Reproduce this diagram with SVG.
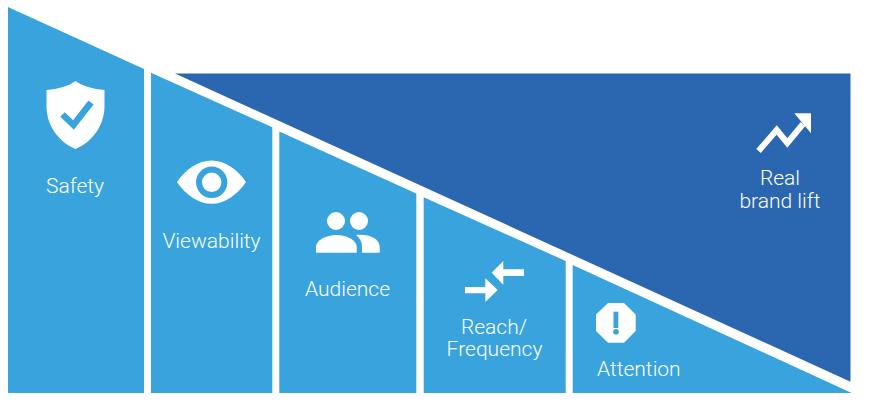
<svg xmlns="http://www.w3.org/2000/svg" width="870" height="400" viewBox="0 0 870 400">
<style>
.l{fill:#38a3dd}
.d{fill:#2b66b0}
.w{fill:#fff}
text{font-family:Roboto,"Liberation Sans",sans-serif;font-weight:300;font-size:21px;fill:#fff;text-anchor:middle}
</style>
<rect width="870" height="400" fill="#fff"/>
<g id="safety">
<polygon class="l" points="8,7 144,69 144,393 8,393"/>
<path class="w" d="M75.5,81 C82,86 93,89 104.500,90 L104.500,106 C104.500,126 92,142 75.500,149 C59,142 46.500,126 46.500,106 L46.500,90 C58,89 69,86 75.500,81 Z"/>
<polyline points="62.500,114.500 73.500,125 91,102.500" fill="none" stroke="#38a3dd" stroke-width="6.500"/>
<text x="75" y="193">Safety</text>
</g>
<g id="viewability">
<polygon class="l" points="151,72.700 272.300,127.300 272.300,393 151,393"/>
<path class="w" d="M177,182 C186,169 198,160.500 211.500,160.500 C225,160.500 237,169 246,182 C237,195 225,203.800 211.500,203.800 C198,203.800 186,195 177,182 Z"/>
<circle cx="211.700" cy="182.300" r="12.700" fill="none" stroke="#38a3dd" stroke-width="6"/>
<text x="211.500" y="248">Viewability</text>
</g>
<g id="audience">
<polygon class="l" points="279.300,131.500 416.300,193.500 416.300,393 279.300,393"/>
<circle class="w" cx="336" cy="221" r="9"/>
<circle class="w" cx="359" cy="221" r="9"/>
<path class="w" d="M316,252.700 L316,247 C316,240 326,235 336.500,235 C347,235 356.700,240 356.700,247 L356.700,252.700 Z"/>
<path class="w" d="M356,235 C370,234 379.700,239 379.700,247 L379.700,252.700 L362,252.700 L362,247 C362,242 360,238 356,235 Z"/>
<text x="347.500" y="296">Audience</text>
</g>
<g id="reach-frequency">
<polygon class="l" points="423.700,197.300 565.700,261 565.700,393 423.700,393"/>
<polygon class="w" points="491.700,272.700 503.300,261 503.300,269.300 524,269.300 524,276 503.300,276 503.300,284.700"/>
<polygon class="w" points="497.700,290 485.300,278.300 485.300,287 465,287 465,293.300 485.300,293.300 485.300,302"/>
<text x="494" y="334">Reach/</text>
<text x="494.500" y="356">Frequency</text>
</g>
<g id="attention">
<polygon class="l" points="572.700,265 851.700,393 572.700,393"/>
<polygon class="w" points="608,303 624,303 635.700,314.500 635.700,331 624,342.700 608,342.700 596,331 596,314.500"/>
<rect x="613.500" y="311.700" width="4.800" height="16.300" class="l"/>
<circle cx="616" cy="331.700" r="2.800" class="l"/>
<text x="597" y="376" style="text-anchor:start">Attention</text>
</g>
<g id="real-brand-lift">
<polygon class="d" points="175,73.500 850.500,73.500 850.500,381.700"/>
<polyline points="758.500,151 776.700,130 787.300,143 803,124" fill="none" stroke="#fff" stroke-width="6"/>
<polygon class="w" points="794.300,113.300 811,113.300 811,133.300"/>
<text x="780" y="185">Real</text>
<text x="780" y="208">brand lift</text>
</g>
<g id="connectors"/>
</svg>
